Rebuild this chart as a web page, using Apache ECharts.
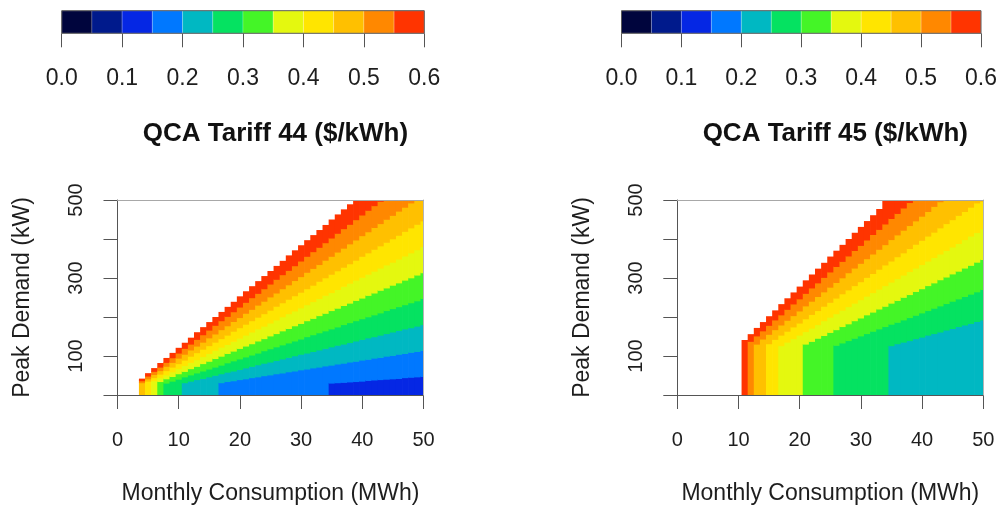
<!DOCTYPE html>
<html>
<head>
<meta charset="utf-8">
<script src="https://cdn.jsdelivr.net/npm/echarts@6.0.0/dist/echarts.min.js"></script>
<style>
html,body{margin:0;padding:0;background:#ffffff;}
#chart{width:1000px;height:506px;}
</style>
</head>
<body>
<div id="chart"></div>
<script>
// ---- colour scale (12 classes of 0.05 $/kWh) ----
const colorbarBreaks = [0, 0.05, 0.10, 0.15, 0.20, 0.25, 0.30, 0.35, 0.40, 0.45, 0.50, 0.55, 0.60];
const levelColors = ['#00053d', '#001a8c', '#0527e4', '#0078ff', '#00b8c2', '#05e261', '#44f527',
                     '#e4f80f', '#ffe500', '#ffc000', '#ff8800', '#ff3400'];
const colorbarTickLabels = ['0.0', '0.1', '0.2', '0.3', '0.4', '0.5', '0.6'];
const xTickValues = [0, 10, 20, 30, 40, 50];
const yTickLabelValues = [100, 300, 500];

// ---- QCA Tariff 44: columns (monthly consumption, MWh) ----
const t44Cols = [4,5,6,7,8,9,10,11,12,13,14,15,16,17,18,19,20,21,22,23,24,25,26,27,
                 28,29,30,31,32,33,34,35,36,37,38,39,40,41,42,43,44,45,46,47,48,49,50];
// peak demand (kW) at which the average price crosses each threshold (0 = already above it)
const t44At015 = [0,0,0,0,0,0,0,0,0,0, 0,0,0,0,0,0,0,0,0,0, 0,0,0,0,0,0,0,0,0,0, 0,
                  31,32,33,34,35,36,38,39,40,41,42,43,45,46,47,48];
const t44At020 = [0,0,0,0,0,0,0,0,0,0, 0,0,0,
                  32,35,37,40,42,45,47,50,52,55,57,60,62,65,67,70,72,75,77,80,82,85,87,90,
                  92,95,97,100,102,105,107,110,112,115];
const t44At025 = [0,0,0,0,0,0,0,
                  32,36,40,43,47,51,55,59,62,66,70,74,78,82,85,89,93,97,101,105,108,112,116,120,
                  124,128,131,135,139,143,147,150,154,158,162,166,170,173,177,181];
const t44At030 = [0,0,0,0,
                  31,36,41,47,52,57,62,67,72,77,83,88,93,98,103,108,114,119,124,129,134,139,144,150,
                  155,160,165,170,175,181,186,191,196,201,206,211,217,222,227,232,237,242,248];
const t44At035 = [0,0,0,
                  35,42,48,55,61,68,74,81,87,94,100,107,113,120,126,132,139,145,152,158,165,171,178,184,
                  191,197,204,210,217,223,230,236,243,249,256,262,269,275,282,288,295,301,308,314];
const t44At040 = [0,0,
                  37,45,52,60,68,76,84,91,99,107,115,123,130,138,146,154,162,170,177,185,193,201,209,216,
                  224,232,240,248,256,263,271,279,287,295,302,310,318,326,334,341,349,357,365,373,381];
const t44At045 = [0,
                  36,45,54,63,72,81,90,100,109,118,127,136,145,154,164,173,182,191,200,209,218,228,237,246,
                  255,264,273,282,292,301,310,319,328,337,346,356,365,374,383,392,401,410,420,429,438,447];
const t44At050 = [32,42,53,63,74,84,95,105,116,126,136,147,157,168,178,189,199,210,220,231,241,252,262,273,
                  283,294,304,315,325,335,346,356,367,377,388,398,409,419,430,440,451,461,472,482,493,500,500];
const t44At055 = [37,49,61,72,84,96,108,120,131,143,155,167,179,191,202,214,226,238,250,261,273,285,297,309,
                  320,332,344,356,368,379,391,403,415,427,438,450,462,474,486,497,500,500,500,500,500,500,500];
const t44At060 = [42,56,69,82,95,108,121,134,147,161,174,187,200,213,226,239,253,266,279,292,305,318,331,344,
                  358,371,384,397,410,423,436,450,463,476,489,500,500,500,500,500,500,500,500,500,500,500,500];

// ---- QCA Tariff 45 ----
const t45Cols = [11,12,13,14,15,16,17,18,19,20,21,22,23,24,25,26,27,28,29,30,31,32,33,34,
                 35,36,37,38,39,40,41,42,43,44,45,46,47,48,49,50];
const t45At025 = [0,0,0,0,0,0,0,0,0,0, 0,0,0,0,0,0,0,0,0,0, 0,0,0,0,
                  127,132,136,140,145,149,154,158,162,167,171,176,180,184,189,193];
const t45At030 = [0,0,0,0,0,0,0,0,0,0, 0,0,0,0,0,
                  128,134,140,146,152,158,164,170,176,182,187,193,199,205,211,217,223,229,235,241,
                  247,253,259,265,271];
const t45At035 = [0,0,0,0,0,0,0,0,0,0,
                  131,138,146,153,161,168,176,183,191,198,206,213,221,228,236,243,251,258,266,273,
                  281,288,296,303,311,318,326,333,341,348];
const t45At040 = [0,0,0,0,0,0,
                  127,136,145,154,163,172,181,191,200,209,218,227,236,245,254,263,272,281,290,299,
                  308,317,326,335,344,353,362,371,380,389,399,408,417,426];
const t45At045 = [0,0,0,0,
                  132,143,154,164,175,185,196,207,217,228,238,249,260,270,281,291,302,312,323,334,
                  344,355,365,376,387,397,408,418,429,440,450,461,471,482,493,497];
const t45At050 = [0,0,
                  131,144,156,168,180,192,204,216,229,241,253,265,277,289,301,314,326,338,350,362,
                  374,386,399,411,423,435,447,459,471,484,496,500,500,500,500,500,500,500];
const t45At055 = [0,
                  138,152,165,179,193,206,220,234,247,261,275,288,302,316,330,343,357,371,384,398,
                  412,425,439,453,466,480,494,500,500,500,500,500,500,500,500,500,500,500,500];
const t45At060 = [141,156,172,187,202,217,233,248,263,278,294,309,324,339,355,370,385,400,416,431,
                  446,461,477,500,500,500,500,500,500,500,500,500,500,500,500,500,500,500,500,500];

const t44Thresholds = [0.15, 0.20, 0.25, 0.30, 0.35, 0.40, 0.45, 0.50, 0.55, 0.60];
const t45Thresholds = [0.25, 0.30, 0.35, 0.40, 0.45, 0.50, 0.55, 0.60];

// ---------------------------------------------------------------
const FONT = "'Liberation Sans', Arial, Helvetica, sans-serif";
const TEXT = '#1e1e1e';
const AXIS = '#555555';
const X_MAX = 50, Y_MAX = 500;

function buildCells(cols, thresholds, boundArrays) {
  const cells = [];
  cols.forEach(function (e, j) {
    const x0 = Math.max(e - 0.5, 0), x1 = Math.min(e + 0.5, X_MAX);
    let lower = 0;
    thresholds.forEach(function (t, k) {
      const b = boundArrays[k][j];
      if (b > lower) {
        const level = Math.round(t / 0.05) - 1;
        cells.push([x0, x1, lower, b, level]);
        lower = b;
      }
    });
  });
  return cells;
}

// cells overlap their right / lower neighbours by a fraction of a pixel to hide seams
function renderCell(params, api) {
  const p0 = api.coord([api.value(0), api.value(3)]);
  const p1 = api.coord([api.value(1), api.value(2)]);
  const c = levelColors[api.value(4)];
  const atRight = api.value(1) >= X_MAX;
  const atBottom = api.value(2) <= 0;
  return {
    type: 'rect',
    shape: { x: p0[0], y: p0[1],
             width: p1[0] - p0[0] + (atRight ? 0 : 0.7),
             height: p1[1] - p0[1] + (atBottom ? 0 : 0.7) },
    style: { fill: c }
  };
}

function renderBar(params, api) {
  const p0 = api.coord([api.value(0), api.value(3)]);
  const p1 = api.coord([api.value(1), api.value(2)]);
  const c = levelColors[api.value(4)];
  return {
    type: 'rect',
    shape: { x: p0[0], y: p0[1], width: p1[0] - p0[0], height: p1[1] - p0[1] },
    style: { fill: c, stroke: 'rgba(255,255,255,0.35)', lineWidth: 0.6 }
  };
}

const panels = [
  { title: 'QCA Tariff 44 ($/kWh)', left: 117.5,
    cells: buildCells(t44Cols, t44Thresholds,
      [t44At015, t44At020, t44At025, t44At030, t44At035, t44At040, t44At045, t44At050, t44At055, t44At060]) },
  { title: 'QCA Tariff 45 ($/kWh)', left: 677.3,
    cells: buildCells(t45Cols, t45Thresholds,
      [t45At025, t45At030, t45At035, t45At040, t45At045, t45At050, t45At055, t45At060]) }
];

const colorbarData = colorbarBreaks.slice(0, -1).map(function (b, k) {
  return [b, colorbarBreaks[k + 1], 0, 1, k];
});

const grids = [], xAxes = [], yAxes = [], series = [], titles = [];

panels.forEach(function (p) {
  const hg = grids.length;
  grids.push({ left: p.left, top: 200, width: 306, height: 196, show: false });
  const cg = grids.length;
  grids.push({ left: p.left - 55.8, top: 10.7, width: 362.6, height: 22.6, show: true,
               borderColor: '#5a5a5a', borderWidth: 1, backgroundColor: 'transparent', z: 10 });

  // heatmap axes
  const hx = xAxes.length;
  xAxes.push({
    gridIndex: hg, type: 'value', min: 0, max: X_MAX, interval: 10,
    axisLine: { onZero: false, lineStyle: { color: AXIS, width: 1 } },
    axisTick: { length: 14, lineStyle: { color: AXIS } },
    axisLabel: { fontSize: 20, color: TEXT, margin: 35, fontFamily: FONT,
                 formatter: function (v) { return xTickValues.indexOf(v) >= 0 ? String(v) : ''; } },
    splitLine: { show: false },
    name: 'Monthly Consumption (MWh)', nameLocation: 'middle', nameGap: 87,
    nameTextStyle: { fontSize: 23, color: TEXT, fontFamily: FONT }
  });
  xAxes.push({
    gridIndex: hg, type: 'value', position: 'top', min: 0, max: X_MAX, z: 10,
    axisLine: { onZero: false, lineStyle: { color: '#a8a8a8', width: 1 } },
    axisTick: { show: false }, axisLabel: { show: false }, splitLine: { show: false }
  });
  const hy = yAxes.length;
  yAxes.push({
    gridIndex: hg, type: 'value', min: 0, max: Y_MAX, interval: 100,
    axisLine: { onZero: false, lineStyle: { color: AXIS, width: 1 } },
    axisTick: { length: 14, lineStyle: { color: AXIS } },
    axisLabel: { fontSize: 20, color: TEXT, margin: 31, rotate: 90, fontFamily: FONT,
                 formatter: function (v) { return yTickLabelValues.indexOf(v) >= 0 ? String(v) : ''; } },
    splitLine: { show: false },
    name: 'Peak Demand (kW)', nameLocation: 'middle', nameGap: 83,
    nameTextStyle: { fontSize: 23, color: TEXT, fontFamily: FONT }
  });
  yAxes.push({
    gridIndex: hg, type: 'value', position: 'right', min: 0, max: Y_MAX, z: 10,
    axisLine: { onZero: false, lineStyle: { color: '#b4b4b4', width: 1 } },
    axisTick: { show: false }, axisLabel: { show: false }, splitLine: { show: false }
  });

  // colour-bar axes
  const cx = xAxes.length;
  xAxes.push({
    gridIndex: cg, type: 'value', min: 0, max: 0.6, interval: 0.1,
    axisLine: { show: false, onZero: false },
    axisTick: { show: true, length: 14, lineStyle: { color: AXIS } },
    axisLabel: { fontSize: 23, color: TEXT, margin: 34, fontFamily: FONT,
                 formatter: function (v) { return colorbarTickLabels[Math.round(v * 10)]; } },
    splitLine: { show: false }
  });
  const cy = yAxes.length;
  yAxes.push({ gridIndex: cg, type: 'value', min: 0, max: 1, show: false });

  series.push({
    type: 'custom', coordinateSystem: 'cartesian2d', xAxisIndex: hx, yAxisIndex: hy,
    renderItem: renderCell, data: p.cells, encode: { x: [0, 1], y: [2, 3] },
    silent: true, clip: true
  });
  series.push({
    type: 'custom', coordinateSystem: 'cartesian2d', xAxisIndex: cx, yAxisIndex: cy,
    renderItem: renderBar, data: colorbarData, encode: { x: [0, 1], y: [2, 3] },
    silent: true
  });

  titles.push({
    text: p.title, left: p.left + 153, top: 116, textAlign: 'center', padding: 5,
    textStyle: { fontSize: 26, fontWeight: 'bold', color: '#111', fontFamily: FONT }
  });
});

const chart = echarts.init(document.getElementById('chart'), null, { renderer: 'canvas' });
chart.setOption({
  animation: false,
  backgroundColor: '#ffffff',
  title: titles,
  grid: grids,
  xAxis: xAxes,
  yAxis: yAxes,
  series: series
});
</script>
</body>
</html>
